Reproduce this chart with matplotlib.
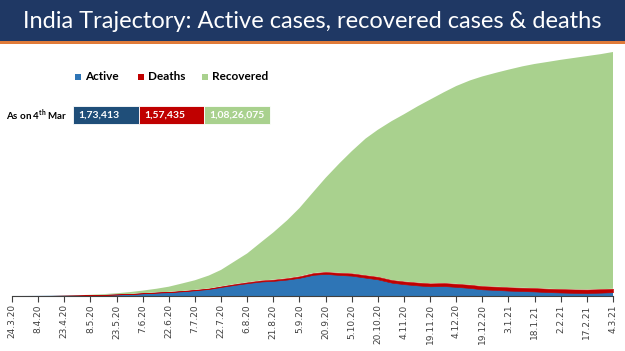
import numpy as np
import pandas as pd
import matplotlib.pyplot as plt
from matplotlib.patches import Rectangle

plt.rcParams['mathtext.fontset'] = 'custom'
plt.rcParams['mathtext.rm'] = 'Lato'
plt.rcParams['mathtext.bf'] = 'Lato:bold'

# data (thousands)
dates = ['24.3.20', '31.3.20', '8.4.20', '16.4.20', '23.4.20', '1.5.20', '8.5.20', '16.5.20',
         '23.5.20', '31.5.20', '7.6.20', '15.6.20', '22.6.20', '30.6.20', '7.7.20', '15.7.20',
         '22.7.20', '30.7.20', '6.8.20', '14.8.20', '21.8.20', '29.8.20', '5.9.20', '13.9.20',
         '20.9.20', '28.9.20', '5.10.20', '13.10.20', '20.10.20', '28.10.20', '4.11.20', '12.11.20',
         '19.11.20', '27.11.20', '4.12.20', '12.12.20', '19.12.20', '27.12.20', '3.1.21', '11.1.21',
         '18.1.21', '26.1.21', '2.2.21', '10.2.21', '17.2.21', '25.2.21', '4.3.21']
active = [0.5, 1.4, 5.1, 10.5, 16.7, 25.0, 37.9, 53.0,
          69.6, 89.9, 120.4, 153.1, 174.4, 215.1, 259.6, 319.8,
          411.1, 509.4, 586.2, 661.6, 692.0, 752.4, 831.1, 970.0,
          1010.0, 962.0, 930.0, 838.0, 761.0, 610.0, 541.0, 484.0,
          443.0, 455.0, 417.0, 368.0, 304.0, 277.0, 247.0, 225.0,
          208.0, 177.0, 160.0, 143.0, 137.0, 154.0, 173.4]
deaths = [0.01, 0.035, 0.17, 0.41, 0.68, 1.15, 1.89, 2.75,
          3.72, 5.16, 6.93, 9.52, 13.7, 16.9, 20.2, 24.3,
          28.7, 35.7, 39.8, 48.0, 53.9, 62.6, 68.5, 78.6,
          86.0, 95.5, 102.7, 109.9, 115.0, 120.0, 123.5, 128.0,
          131.5, 135.9, 139.4, 143.0, 145.5, 147.9, 149.6, 151.4,
          152.6, 153.8, 154.7, 155.4, 156.1, 156.9, 157.4]
recovered = [0.04, 0.13, 0.47, 1.5, 4.3, 9.1, 16.5, 33.0,
             51.8, 86.9, 119.3, 169.8, 237.2, 347.9, 440.0, 592.0,
             753.0, 1050.0, 1320.0, 1750.0, 2159.0, 2650.0, 3120.0, 3711.0,
             4304.0, 5012.0, 5587.0, 6252.0, 6724.0, 7270.0, 7645.0, 8068.0,
             8405.0, 8729.0, 9044.0, 9349.0, 9590.0, 9785.0, 9953.0, 10124.0,
             10249.0, 10379.0, 10485.0, 10592.0, 10677.0, 10749.0, 10826.0]

tick_labels = ['24.3.20', '8.4.20', '23.4.20', '8.5.20', '23.5.20', '7.6.20', '22.6.20',
               '7.7.20', '22.7.20', '6.8.20', '21.8.20', '5.9.20', '20.9.20', '5.10.20',
               '20.10.20', '4.11.20', '19.11.20', '4.12.20', '19.12.20', '3.1.21', '18.1.21',
               '2.2.21', '17.2.21', '4.3.21']

legend_names = ['Active', 'Deaths', 'Recovered']
latest = ['1,73,413', '1,57,435', '1,08,26,075']

c_active = '#2E75B6'
c_deaths = '#C00000'
c_recov = '#A9D18E'
box_colors = ['#1F4E79', '#C00000', '#A9D18E']

d = pd.to_datetime(dates, format='%d.%m.%y')
x = (d - d[0]).days.values
td = pd.to_datetime(tick_labels, format='%d.%m.%y')
tx = (td - d[0]).days.values

W, H = 625, 351
fig = plt.figure(figsize=(W / 100, H / 100), dpi=100)

# title bar
fig.patches.append(Rectangle((0, 1 - 41 / H), 1, 41 / H, transform=fig.transFigure,
                             facecolor='#1F3864', edgecolor='none'))
fig.patches.append(Rectangle((0, 1 - 44 / H), 1, 3 / H, transform=fig.transFigure,
                             facecolor='#E07B39', edgecolor='none'))
fig.text(0.5, 1 - 21 / H, 'India Trajectory: Active cases, recovered cases & deaths',
         color='white', fontsize=17, family='Lato', ha='center', va='center')

ax = fig.add_axes([12 / W, (H - 296) / H, 601 / W, 244 / H])
polys = ax.stackplot(x, np.array(active) * 1e3, np.array(deaths) * 1e3,
                     np.array(recovered) * 1e3,
                     colors=[c_active, c_deaths, c_recov], linewidth=0)
polys[1].set_edgecolor(c_deaths)
polys[1].set_linewidth(0.4)
polys[1].set_zorder(3)
ax.set_xlim(x[0], x[-1])
ax.set_ylim(0, (active[-1] + deaths[-1] + recovered[-1]) * 1e3)
for s in ['top', 'right', 'left']:
    ax.spines[s].set_visible(False)
ax.spines['bottom'].set_color('#404040')
ax.spines['bottom'].set_zorder(5)
ax.set_yticks([])
ax.set_xticks(tx)
ax.set_xticklabels(tick_labels, rotation=90, fontsize=6.5, color='#404040')
ax.tick_params(axis='x', length=4, color='#404040', pad=2)

# legend
lx = [75, 138, 202]
for px, name, col in zip(lx, legend_names, [c_active, c_deaths, c_recov]):
    fig.patches.append(Rectangle((px / W, 1 - 80 / H), 6 / W, 6 / H, transform=fig.transFigure,
                                 facecolor=col, edgecolor='none'))
    fig.text((px + 10) / W, 1 - 77 / H, name, fontsize=8.5, fontweight='bold',
             family='Lato', va='center', ha='left')

# "as on" boxes
bx = [73, 139, 204, 270]
for i in range(3):
    fig.patches.append(Rectangle((bx[i] / W, 1 - 124 / H), (bx[i + 1] - bx[i]) / W, 18 / H,
                                 transform=fig.transFigure, facecolor=box_colors[i],
                                 edgecolor='white', linewidth=0.6))
    fig.text((bx[i] + 5) / W, 1 - 115 / H, latest[i], color='white', fontsize=7.5,
             fontweight='bold', family='Lato', va='center', ha='left')
fig.text(6 / W, 1 - 115 / H, r'As on 4$^{\mathbf{th}}$ Mar', fontsize=7, fontweight='bold',
         family='Lato', va='center', ha='left')

fig.savefig('out.png', dpi=100)
